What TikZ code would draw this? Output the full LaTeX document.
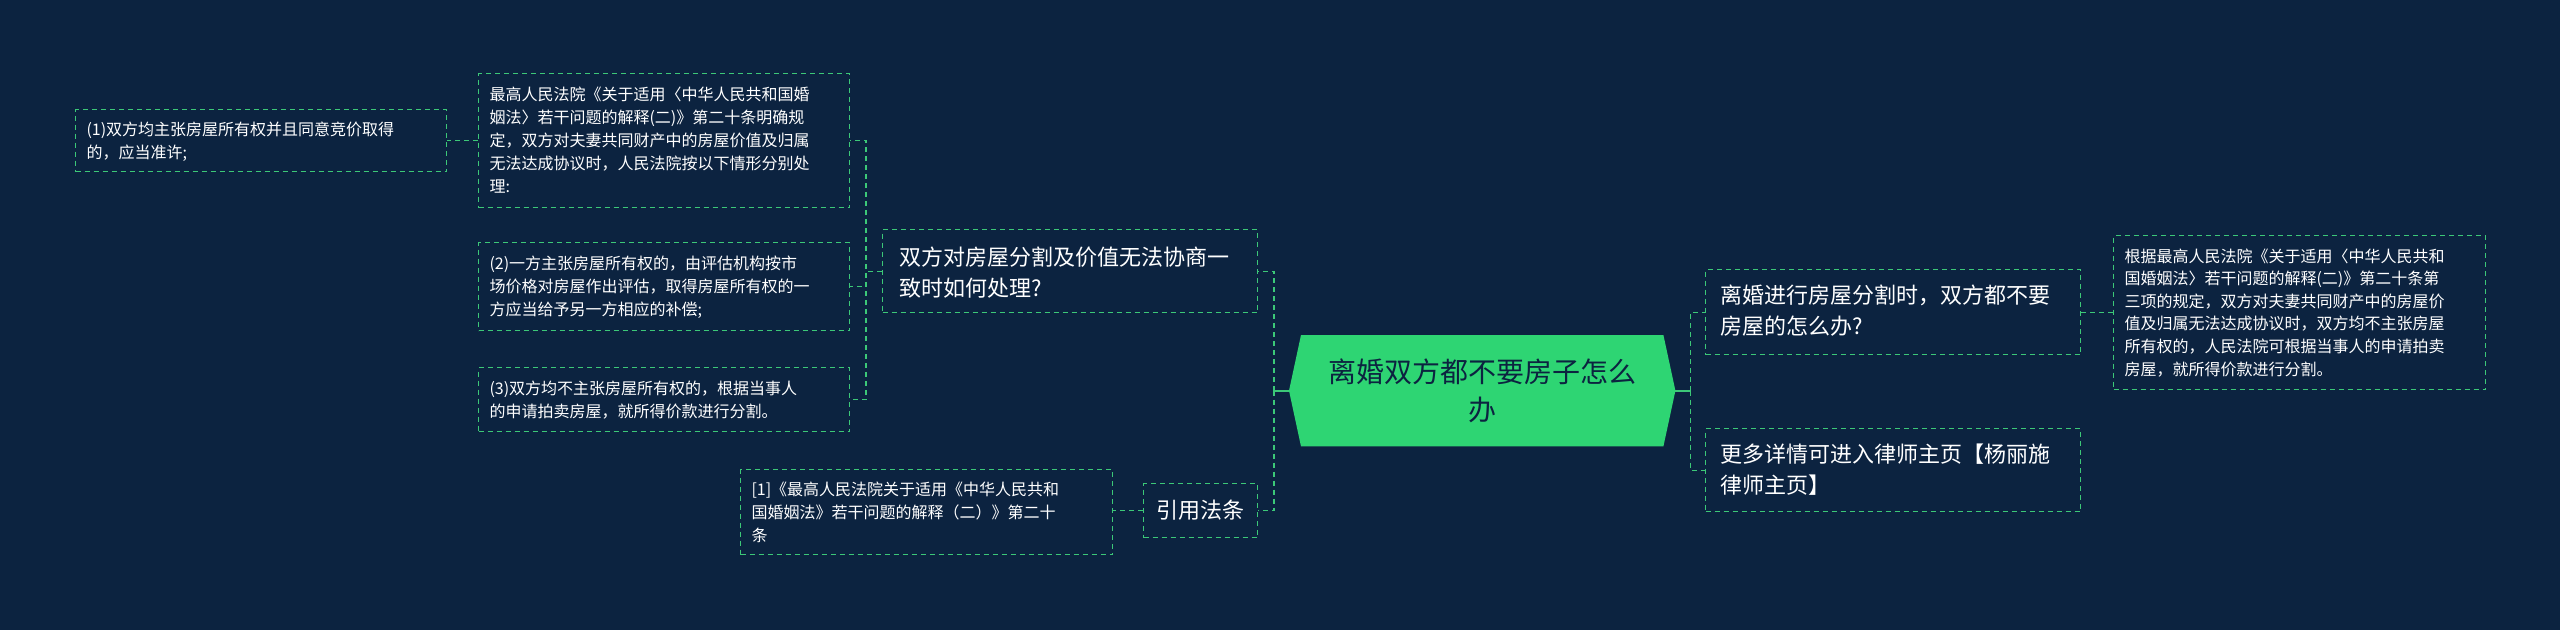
\documentclass[tikz,border=0pt]{standalone}
\usepackage{fontspec}
\setmainfont{Noto Sans CJK SC}
\usepackage{tikz}
\usetikzlibrary{positioning}
\definecolor{bgnavy}{HTML}{0C2340}
\definecolor{mapgreen}{HTML}{2ED573}
\definecolor{linegreen}{HTML}{3CC878}
\tikzset{
  box/.style={draw=linegreen, dashed, line width=1.3pt, dash pattern=on 5pt off 4pt,
    anchor=north west, align=left, text=white, inner sep=0pt, font=\fontsize{16}{23}\selectfont},
  bigbox/.style={box, font=\fontsize{22}{31}\selectfont},
  link/.style={draw=linegreen, line width=1.3pt, dash pattern=on 5pt off 4pt}
}
\begin{document}
\begin{tikzpicture}[x=1pt,y=-1pt]
  \fill[bgnavy] (0,0) rectangle (2560,630);
  \useasboundingbox (0,0) rectangle (2560,630);
  % centre
  \node[minimum width=362pt, minimum height=111pt, anchor=north west, inner sep=0pt] (centre) at (1301,335) {};
  \fill[mapgreen] (centre.north west) -- (centre.north east) -- ([xshift=12pt]centre.east)
    -- (centre.south east) -- (centre.south west) -- ([xshift=-12pt]centre.west) -- cycle;
  \node[text=bgnavy, align=center, font=\fontsize{28}{38}\selectfont] (centretext) at (centre.center) {离婚双方都不要房子怎么\\办};
  % left branch
  \node[bigbox, minimum width=375pt, minimum height=83pt] (howto) at (882,229) {};
  \node[anchor=north west, align=left, text=white, font=\fontsize{22}{31}\selectfont] at ([shift={(14,14)}]howto.north west) {双方对房屋分割及价值无法协商一\\致时如何处理?};
  \node[box, minimum width=371pt, minimum height=134pt] (rule) at (478,73) {};
  \node[anchor=north west, align=left, text=white, font=\fontsize{16}{23}\selectfont] at ([shift={(8,10)}]rule.north west) {最高人民法院《关于适用〈中华人民共和国婚\\姻法〉若干问题的解释(二)》第二十条明确规\\定，双方对夫妻共同财产中的房屋价值及归属\\无法达成协议时，人民法院按以下情形分别处\\理:};
  \node[box, minimum width=371pt, minimum height=62pt] (caseone) at (75,109) {};
  \node[anchor=north west, align=left, text=white, font=\fontsize{16}{23}\selectfont] at ([shift={(8,9)}]caseone.north west) {(1)双方均主张房屋所有权并且同意竞价取得\\的，应当准许;};
  \node[box, minimum width=371pt, minimum height=88pt] (casetwo) at (478,242) {};
  \node[anchor=north west, align=left, text=white, font=\fontsize{16}{23}\selectfont] at ([shift={(8,10)}]casetwo.north west) {(2)一方主张房屋所有权的，由评估机构按市\\场价格对房屋作出评估，取得房屋所有权的一\\方应当给予另一方相应的补偿;};
  \node[box, minimum width=371pt, minimum height=64pt] (casethree) at (478,367) {};
  \node[anchor=north west, align=left, text=white, font=\fontsize{16}{23}\selectfont] at ([shift={(8,10)}]casethree.north west) {(3)双方均不主张房屋所有权的，根据当事人\\的申请拍卖房屋，就所得价款进行分割。};
  \node[box, minimum width=114pt, minimum height=54pt] (cite) at (1143,483) {};
  \node[text=white, font=\fontsize{22}{31}\selectfont] at (cite.center) {引用法条};
  \node[box, minimum width=372pt, minimum height=85pt] (citesrc) at (740,469) {};
  \node[anchor=north west, align=left, text=white, font=\fontsize{16}{23}\selectfont] at ([shift={(8,9)}]citesrc.north west) {[1]《最高人民法院关于适用《中华人民共和\\国婚姻法》若干问题的解释（二）》第二十\\条};
  % right branch
  \node[box, minimum width=375pt, minimum height=85pt] (noone) at (1705,269) {};
  \node[anchor=north west, align=left, text=white, font=\fontsize{22}{31}\selectfont] at ([shift={(12,12)}]noone.north west) {离婚进行房屋分割时，双方都不要\\房屋的怎么办?};
  \node[box, minimum width=372pt, minimum height=154pt] (answer) at (2113,235) {};
  \node[anchor=north west, align=left, text=white, font=\fontsize{16}{22.6}\selectfont] at ([shift={(8,10)}]answer.north west) {根据最高人民法院《关于适用〈中华人民共和\\国婚姻法〉若干问题的解释(二)》第二十条第\\三项的规定，双方对夫妻共同财产中的房屋价\\值及归属无法达成协议时，双方均不主张房屋\\所有权的，人民法院可根据当事人的申请拍卖\\房屋，就所得价款进行分割。};
  \node[box, minimum width=375pt, minimum height=83pt] (lawyer) at (1705,428) {};
  \node[anchor=north west, align=left, text=white, font=\fontsize{22}{31}\selectfont] at ([shift={(12,12)}]lawyer.north west) {更多详情可进入律师主页【杨丽施\\律师主页】};
  % connectors
  \coordinate (lefthub) at ([xshift=-27pt]centre.west);
  \coordinate (righthub) at ([xshift=27pt]centre.east);
  \draw[linegreen, line width=2pt] ([xshift=-12pt]centre.west) -- (lefthub);
  \draw[linegreen, line width=2pt] ([xshift=12pt]centre.east) -- (righthub);
  \draw[link] (lefthub) |- (howto.east);
  \draw[link] (lefthub) |- (cite.east);
  \draw[link] (righthub) |- (noone.west);
  \draw[link] (righthub) |- (lawyer.west);
  \draw[link] (howto.west) -- ++(-16,0) |- (rule.east);
  \draw[link] (howto.west) -- ++(-16,0) |- (casetwo.east);
  \draw[link] (howto.west) -- ++(-16,0) |- (casethree.east);
  \draw[link] (rule.west) -- (rule.west -| caseone.east);
  \draw[link] (cite.west) -- (cite.west -| citesrc.east);
  \draw[link] (noone.east) -- (noone.east -| answer.west);
\end{tikzpicture}
\end{document}
